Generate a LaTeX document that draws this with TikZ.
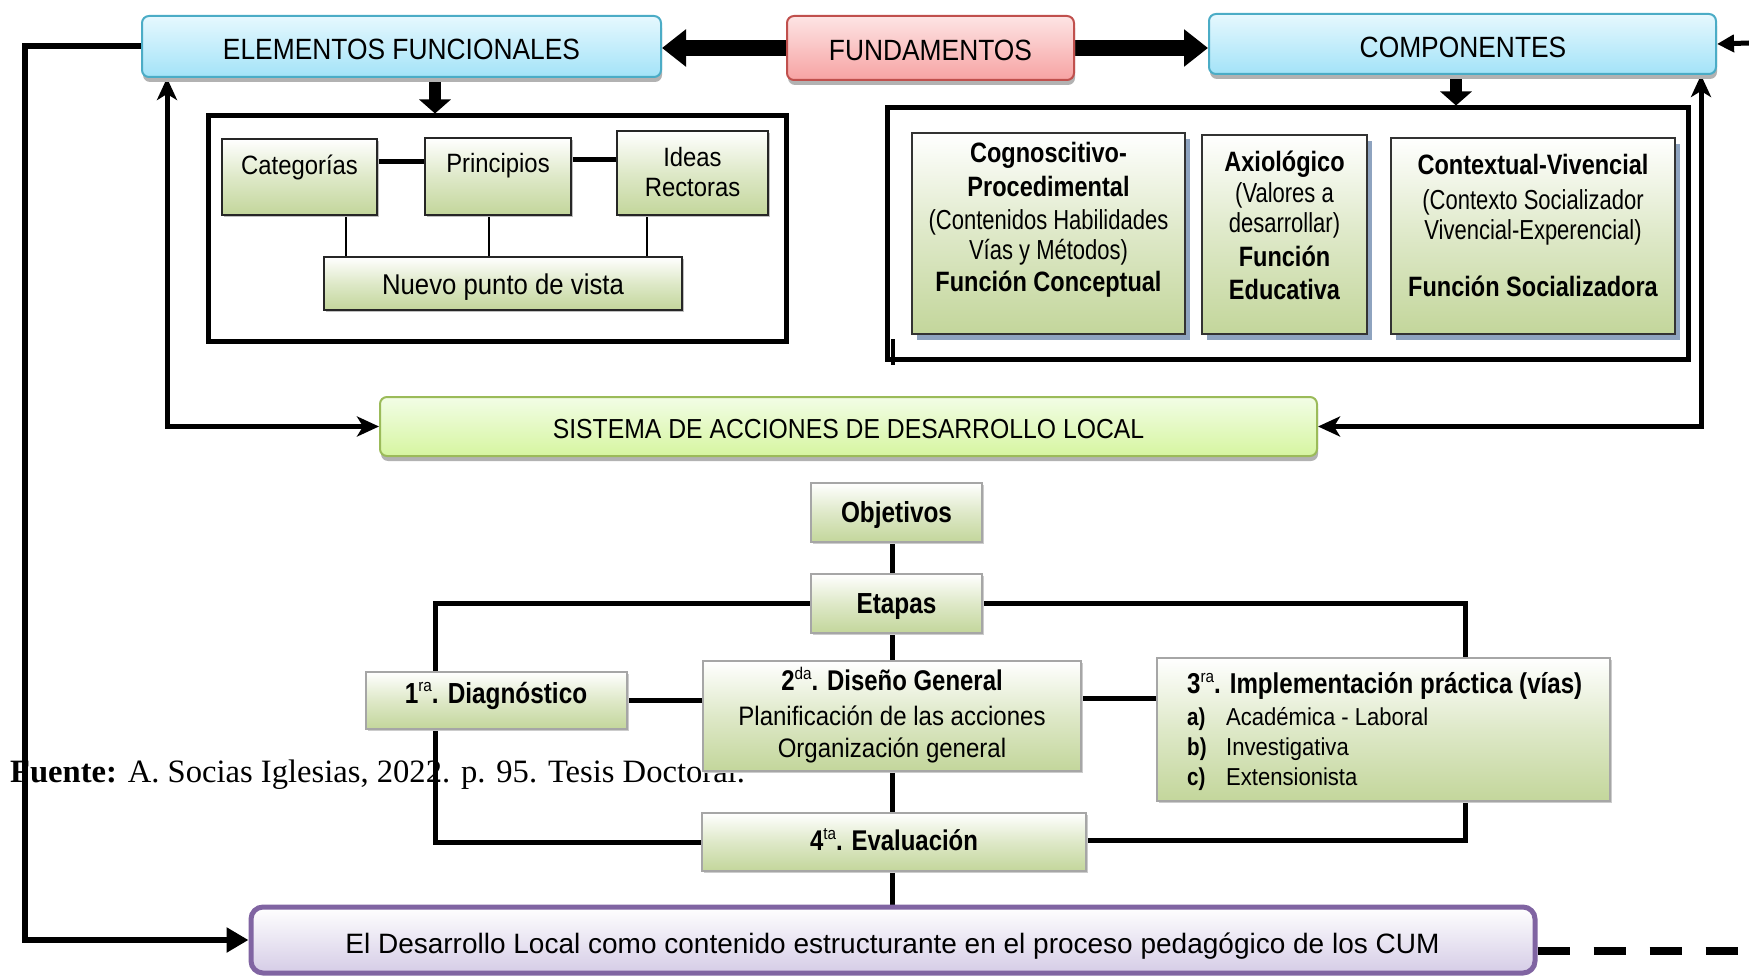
\documentclass[tikz,border=0pt]{standalone}
\usepackage{fontspec}
\setmainfont{Liberation Sans}[FakeStretch=0.9, BoldFeatures={FakeStretch=0.84}]
\newfontfamily\fuentefont{Liberation Serif}
\newfontfamily\widefont{Liberation Sans}
\newfontfamily\narrowfont{Liberation Sans}[FakeStretch=0.8]
\usetikzlibrary{arrows.meta,shadows}
\pgfdeclarelayer{back}
\pgfdeclarelayer{background}
\pgfsetlayers{back,background,main}
\definecolor{bluT}{HTML}{E6F8FE}
\definecolor{bluB}{HTML}{A3E3F8}
\definecolor{bluD}{HTML}{4BACC6}
\definecolor{redT}{HTML}{FDE4E4}
\definecolor{redB}{HTML}{F7A3A3}
\definecolor{redD}{HTML}{C0504D}
\definecolor{sisT}{HTML}{F2FDE6}
\definecolor{sisB}{HTML}{D6F5A0}
\definecolor{sisD}{HTML}{9BBB59}
\definecolor{gfill}{HTML}{C3D69B}
\definecolor{desT}{HTML}{FFFFFF}
\definecolor{desB}{HTML}{D5CCE6}
\definecolor{desD}{HTML}{8064A2}
\definecolor{shblue}{HTML}{8EA3BF}
\colorlet{gmid}{gfill!55!white}
\newcommand\fsz[1]{\fontsize{#1}{#1}\selectfont}
\newcommand\sups[1]{\raisebox{0.38em}{\mdseries\fontsize{17}{17}\selectfont #1}}
\tikzset{
  hdr/.style={rounded corners=7pt, line width=2pt, inner sep=0pt,
    drop shadow={shadow xshift=1pt, shadow yshift=-5pt, fill=black!30, opacity=1}},
  bluehdr/.style={hdr, draw=bluD, top color=bluT, bottom color=bluB},
  redhdr/.style={hdr, draw=redD, top color=redT, bottom color=redB},
  gbox/.style={draw=black!85, line width=2pt, inner sep=0pt, top color=white, bottom color=gfill, middle color=gmid,
    drop shadow={shadow xshift=2pt, shadow yshift=-2pt, fill=black!25, opacity=1}},
  cbox/.style={draw=black!80, line width=2.5pt, inner sep=0pt, top color=white, bottom color=gfill, middle color=gmid,
    drop shadow={shadow xshift=5pt, shadow yshift=-6pt, fill=shblue, opacity=1}},
  sbox/.style={draw=black!35, line width=1.5pt, inner sep=0pt, top color=white, bottom color=gfill, middle color=gmid,
    drop shadow={shadow xshift=2pt, shadow yshift=-2pt, fill=black!20, opacity=1}},
  frame/.style={draw=black, line width=5pt, inner sep=0pt},
  tl/.style={anchor=base, inner sep=0pt},
  tlw/.style={anchor=base west, inner sep=0pt},
  conn/.style={draw=black, line width=5pt},
  thinconn/.style={draw=black, line width=2.5pt},
  bigarr/.style={draw=black, line width=16pt, -{Triangle[length=24pt,width=36pt]}},
  downarr/.style={draw=black, line width=12pt, -{Triangle[length=14pt,width=31pt]}},
  looparr/.style={draw=black, line width=5pt, {Stealth[length=22pt,width=20pt,inset=6pt]}-{Stealth[length=22pt,width=20pt,inset=6pt]}},
}
\begin{document}
\begin{tikzpicture}[x=1pt,y=-1pt]
\useasboundingbox (0,0) rectangle (1749,976);

% ---------- top headers
\node[bluehdr, minimum width=519pt, minimum height=61pt] (elem) at (401.5,46.5) {};
\node[tl, font=\fsz{29.3}] (elemT) at (401.5,59.5) {ELEMENTOS FUNCIONALES};
\node[redhdr, minimum width=287pt, minimum height=64pt] (fund) at (930.5,48) {};
\node[tl, font=\fsz{29.3}] (fundT) at (930.5,61) {FUNDAMENTOS};
\node[bluehdr, minimum width=507pt, minimum height=60pt] (comp) at (1462.5,44) {};
\node[tl, font=\fsz{29.3}] (compT) at (1463,58) {COMPONENTES};

% ---------- left frame
\node[frame, minimum width=578pt, minimum height=226pt] (lframe) at (497,229) {};
\node[gbox, minimum width=155pt, minimum height=76pt] (cat) at (299.5,177) {};
\node[tl, font=\fsz{26.5}] (catT) at (299.5,175) {Categorías};
\node[gbox, minimum width=146pt, minimum height=77pt] (prin) at (498,176.5) {};
\node[tl, font=\fsz{26.5}] (prinT) at (498,173) {Principios};
\node[gbox, minimum width=151pt, minimum height=84pt] (ideas) at (692.5,173) {};
\node[tl, font=\fsz{26.5}] (ideasT1) at (692.5,167) {Ideas};
\node[tl, font=\fsz{26.5}] (ideasT2) at (692.5,197) {Rectoras};
\node[gbox, minimum width=358pt, minimum height=53pt] (nuevo) at (503,283.5) {};
\node[tl, font=\fsz{28.6}] (nuevoT) at (503,295) {Nuevo punto de vista};

% ---------- right frame
\node[frame, minimum width=801pt, minimum height=252pt] (rframe) at (1287.5,234) {};
\node[cbox, minimum width=273pt, minimum height=201pt] (cog) at (1048.5,233.5) {};
\node[tl, font=\bfseries\fsz{28}] (cog1) at (1048.5,163) {Cognoscitivo-};
\node[tl, font=\bfseries\fsz{28}] (cog2) at (1048.5,197) {Procedimental};
\node[tl, font=\narrowfont\fsz{27.5}] (cog3) at (1048.5,230) {(Contenidos Habilidades};
\node[tl, font=\narrowfont\fsz{27.5}] (cog4) at (1048.5,260) {Vías y Métodos)};
\node[tl, font=\bfseries\fsz{28}] (cog5) at (1048.5,292) {Función Conceptual};
\node[cbox, minimum width=165pt, minimum height=199pt] (axio) at (1284.5,234.5) {};
\node[tl, font=\bfseries\fsz{28}] (axio1) at (1284.5,172) {Axiológico};
\node[tl, font=\narrowfont\fsz{27.5}] (axio2) at (1284.5,203) {(Valores a};
\node[tl, font=\narrowfont\fsz{27.5}] (axio3) at (1284.5,233) {desarrollar)};
\node[tl, font=\bfseries\fsz{28}] (axio4) at (1284.5,267) {Función};
\node[tl, font=\bfseries\fsz{28}] (axio5) at (1284.5,300) {Educativa};
\node[cbox, minimum width=284pt, minimum height=196pt] (ctx) at (1533,236) {};
\node[tl, font=\bfseries\fsz{28}] (ctx1) at (1533,175) {Contextual-Vivencial};
\node[tl, font=\narrowfont\fsz{27.5}] (ctx2) at (1533,210) {(Contexto Socializador};
\node[tl, font=\narrowfont\fsz{27.5}] (ctx3) at (1533,240) {Vivencial-Experencial)};
\node[tl, font=\bfseries\fsz{28}] (ctx4) at (1533,297) {Función Socializadora};

% ---------- sistema
\node[rounded corners=7pt, line width=2pt, inner sep=0pt, draw=sisD, top color=sisT, bottom color=sisB,
  drop shadow={shadow xshift=1pt, shadow yshift=-5pt, fill=black!30, opacity=1},
  minimum width=937pt, minimum height=59pt] (sist) at (848.5,426.5) {};
\node[tl, font=\fsz{27.5}] (sistT) at (848.5,438) {SISTEMA DE ACCIONES DE DESARROLLO LOCAL};

% ---------- source text
\begin{pgfonlayer}{back}
\node[tlw, font=\fuentefont\fsz{32.6}] (fuente) at (10,782)
  {\textbf{Fuente:} A. Socias Iglesias, 2022. p. 95. Tesis Doctoral.};
\end{pgfonlayer}

% ---------- lower section
\node[sbox, minimum width=171pt, minimum height=59pt] (obj) at (896.5,512.5) {};
\node[tl, font=\bfseries\fsz{29}] (objT) at (896.5,522) {Objetivos};
\node[sbox, minimum width=171pt, minimum height=59pt] (etapas) at (896.5,603.5) {};
\node[tl, font=\bfseries\fsz{29}] (etapasT) at (896.5,613) {Etapas};
\node[sbox, minimum width=261pt, minimum height=57pt] (diag) at (496.5,700.5) {};
\node[tl, font=\bfseries\fsz{29}] (diagT) at (496,703) {1\sups{ra}. Diagnóstico};
\node[sbox, minimum width=378pt, minimum height=110pt] (diseno) at (892,716) {};
\node[tl, font=\bfseries\fsz{28.5}] (dis1) at (892,690) {2\sups{da}. Diseño General};
\node[tl, font=\fsz{26.7}] (dis2) at (892,725) {Planificación de las acciones};
\node[tl, font=\fsz{26.7}] (dis3) at (892,757) {Organización general};
\node[sbox, minimum width=453pt, minimum height=143pt] (impl) at (1383.5,729.5) {};
\node[tlw, font=\bfseries\fsz{28.7}] (impl1) at (1187,693) {3\sups{ra}. Implementación práctica (vías)};
\node[tlw, font=\fsz{24.5}] (impl2) at (1187,725) {\makebox[39pt][l]{\bfseries a)}Académica - Laboral};
\node[tlw, font=\fsz{24.5}] (impl3) at (1187,755) {\makebox[39pt][l]{\bfseries b)}Investigativa};
\node[tlw, font=\fsz{24.5}] (impl4) at (1187,785) {\makebox[39pt][l]{\bfseries c)}Extensionista};
\node[sbox, minimum width=384pt, minimum height=58pt] (eval) at (894,842) {};
\node[tl, font=\bfseries\fsz{28.5}] (evalT) at (894,850) {4\sups{ta}. Evaluación};
\node[rounded corners=12pt, line width=5pt, inner sep=0pt, draw=desD, top color=desT, bottom color=desB,
  minimum width=1284pt, minimum height=66pt] (desa) at (893,940) {};
\node[tl, font=\widefont\fsz{28}] (desaT) at (892.5,953) {El Desarrollo Local como contenido estructurante en el proceso pedagógico de los CUM};

% ---------- helper coordinates
\coordinate (ea) at (435,0);
\coordinate (ca) at (1456,0);
\coordinate (lx) at (167,0);
\coordinate (rx) at (1701,0);
\coordinate (bx) at (25,0);
\coordinate (rfree) at (1749,43);
\coordinate (dfree) at (1749,951);
\coordinate (v1) at (346,0);
\coordinate (v2) at (489,0);
\coordinate (v3) at (647,0);
\coordinate (lx2) at (435,0);
\coordinate (rx2) at (1465,0);
\coordinate (cx) at (892,0);
\coordinate (dy) at (0,951);

% ---------- connectors
\begin{pgfonlayer}{background}
\draw[bigarr] (fund.west) -- (elem.east |- fund.west);
\draw[bigarr] (fund.east) -- (comp.west |- fund.east);
\draw[downarr] (elem.south -| ea) -- (lframe.north -| ea);
\draw[downarr] (comp.south -| ca) -- (rframe.north -| ca);
\draw[looparr] (elem.south -| lx) -- (lx |- sist.west) -- (sist.west);
\draw[looparr] (comp.south -| rx) -- (rx |- sist.east) -- (sist.east);
\draw[draw=black, line width=6pt, -{Triangle[length=22pt,width=24pt]}] (elem.west) -- (bx |- elem.west) -- (bx |- desa.west) -- (desa.west);
\draw[draw=black, line width=5pt, -{Triangle[length=17pt,width=17pt]}] (rfree) -- (comp.east);
\draw[draw=black, line width=4pt] ([xshift=8pt,yshift=23pt]rframe.south west) -- ([xshift=8pt,yshift=-3pt]rframe.south west);
% inside left frame
\draw[conn] ([yshift=15pt]cat.east) -- ([yshift=15pt]cat.east -| prin.west);
\draw[conn] ([yshift=16.5pt]prin.east) -- ([yshift=16.5pt]prin.east -| ideas.west);
\draw[thinconn] (cat.south -| v1) -- (nuevo.north -| v1);
\draw[thinconn] (prin.south -| v2) -- (nuevo.north -| v2);
\draw[thinconn] (ideas.south -| v3) -- (nuevo.north -| v3);
% lower section
\draw[conn] (obj.south -| cx) -- (etapas.north -| cx);
\draw[conn] (etapas.west) -- (lx2 |- etapas.west) -- (lx2 |- eval.west) -- (eval.west);
\draw[conn] (diag.east) -- (diag.east -| diseno.west);
\draw[conn] (etapas.south -| cx) -- (diseno.north -| cx);
\draw[conn] (diseno.south -| cx) -- (eval.north -| cx);
\draw[conn] (eval.south -| cx) -- (desa.north -| cx);
\draw[conn] (etapas.east) -- (rx2 |- etapas.east) -- (impl.north -| rx2);
\draw[conn] ([yshift=18pt]diseno.east) -- ([yshift=18pt]diseno.east -| impl.west);
\draw[conn] (impl.south -| rx2) -- ([yshift=2pt]eval.east -| rx2) -- ([yshift=2pt]eval.east);
\draw[draw=black, line width=8pt, dash pattern=on 32pt off 24pt] (desa.east |- dy) -- (dfree);
\end{pgfonlayer}
\end{tikzpicture}
\end{document}
